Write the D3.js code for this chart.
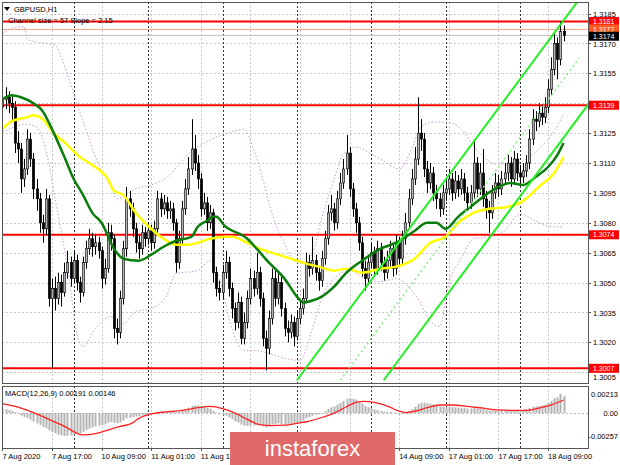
<!DOCTYPE html>
<html><head><meta charset="utf-8">
<script src="https://cdn.jsdelivr.net/npm/d3@7"></script>
<style>
body{margin:0;background:#fff;overflow:hidden;}
text{font-family:"Liberation Sans",Arial,sans-serif;}
</style></head><body>
<svg id="c" width="620" height="465"></svg>
<script>
// ---------- DATA ----------
const open=[1.3138,1.3142,1.3143,1.3140,1.3138,1.3120,1.3117,1.3102,1.3107,1.3122,1.3112,1.3097,1.3092,1.3080,1.3077,1.3092,1.3042,1.3047,1.3042,1.3050,1.3045,1.3055,1.3060,1.3052,1.3061,1.3050,1.3045,1.3060,1.3067,1.3072,1.3068,1.3070,1.3066,1.3052,1.3057,1.3075,1.3072,1.3027,1.3025,1.3042,1.3067,1.3092,1.3087,1.3077,1.3070,1.3067,1.3075,1.3072,1.3076,1.3070,1.3077,1.3092,1.3087,1.3090,1.3086,1.3087,1.3080,1.3060,1.3072,1.3087,1.3097,1.3107,1.3117,1.3110,1.3102,1.3087,1.3090,1.3080,1.3085,1.3055,1.3047,1.3045,1.3055,1.3060,1.3047,1.3037,1.3030,1.3040,1.3022,1.3030,1.3042,1.3052,1.3047,1.3055,1.3042,1.3022,1.3017,1.3032,1.3052,1.3042,1.3050,1.3037,1.3027,1.3025,1.3030,1.3023,1.3032,1.3037,1.3042,1.3060,1.3057,1.3061,1.3055,1.3051,1.3062,1.3072,1.3085,1.3087,1.3080,1.3092,1.3100,1.3107,1.3115,1.3097,1.3087,1.3080,1.3070,1.3057,1.3052,1.3060,1.3065,1.3057,1.3067,1.3060,1.3055,1.3061,1.3067,1.3057,1.3070,1.3062,1.3072,1.3080,1.3092,1.3102,1.3112,1.3125,1.3122,1.3107,1.3100,1.3105,1.3095,1.3092,1.3087,1.3095,1.3097,1.3102,1.3095,1.3101,1.3097,1.3102,1.3095,1.3090,1.3095,1.3110,1.3097,1.3105,1.3092,1.3087,1.3085,1.3095,1.3100,1.3097,1.3102,1.3105,1.3110,1.3102,1.3112,1.3105,1.3103,1.3106,1.3110,1.3122,1.3132,1.3131,1.3135,1.3133,1.3138,1.3147,1.3157,1.3170,1.3162,1.3176];
const high=[1.3146,1.3148,1.3146,1.3144,1.3141,1.3126,1.3120,1.3112,1.3127,1.3125,1.3115,1.3102,1.3095,1.3084,1.3097,1.3094,1.3052,1.3053,1.3055,1.3054,1.3060,1.3066,1.3063,1.3066,1.3064,1.3053,1.3063,1.3071,1.3077,1.3075,1.3074,1.3073,1.3068,1.3062,1.3080,1.3079,1.3074,1.3032,1.3046,1.3071,1.3098,1.3096,1.3090,1.3080,1.3074,1.3079,1.3078,1.3080,1.3079,1.3081,1.3096,1.3095,1.3094,1.3093,1.3091,1.3090,1.3082,1.3076,1.3091,1.3102,1.3113,1.3132,1.3124,1.3114,1.3105,1.3095,1.3093,1.3089,1.3087,1.3058,1.3051,1.3059,1.3066,1.3063,1.3050,1.3040,1.3045,1.3043,1.3035,1.3046,1.3057,1.3056,1.3065,1.3058,1.3045,1.3026,1.3036,1.3057,1.3056,1.3055,1.3053,1.3040,1.3031,1.3034,1.3033,1.3036,1.3041,1.3047,1.3065,1.3064,1.3073,1.3064,1.3058,1.3066,1.3076,1.3089,1.3094,1.3090,1.3096,1.3105,1.3112,1.3124,1.3118,1.3100,1.3090,1.3083,1.3073,1.3061,1.3064,1.3070,1.3068,1.3071,1.3070,1.3063,1.3066,1.3071,1.3070,1.3074,1.3073,1.3076,1.3085,1.3097,1.3107,1.3118,1.3143,1.3132,1.3125,1.3111,1.3110,1.3108,1.3099,1.3095,1.3099,1.3102,1.3107,1.3105,1.3106,1.3104,1.3107,1.3105,1.3098,1.3099,1.3122,1.3113,1.3110,1.3117,1.3096,1.3091,1.3099,1.3105,1.3104,1.3106,1.3110,1.3114,1.3113,1.3116,1.3115,1.3109,1.3110,1.3114,1.3127,1.3137,1.3136,1.3140,1.3139,1.3143,1.3152,1.3163,1.3175,1.3173,1.3181,1.3179];
const low=[1.3134,1.3137,1.3135,1.3131,1.3115,1.3110,1.3095,1.3098,1.3104,1.3108,1.3092,1.3086,1.3075,1.3070,1.3074,1.3038,1.3007,1.3036,1.3039,1.3038,1.3043,1.3052,1.3048,1.3050,1.3046,1.3040,1.3043,1.3057,1.3064,1.3063,1.3064,1.3062,1.3047,1.3049,1.3055,1.3066,1.3022,1.3019,1.3022,1.3039,1.3063,1.3083,1.3073,1.3065,1.3062,1.3064,1.3068,1.3069,1.3066,1.3067,1.3075,1.3083,1.3084,1.3082,1.3082,1.3076,1.3055,1.3057,1.3069,1.3084,1.3094,1.3104,1.3106,1.3097,1.3083,1.3084,1.3076,1.3077,1.3050,1.3043,1.3041,1.3042,1.3052,1.3043,1.3032,1.3026,1.3027,1.3019,1.3019,1.3027,1.3039,1.3043,1.3044,1.3038,1.3018,1.3006,1.3014,1.3029,1.3038,1.3039,1.3033,1.3023,1.3020,1.3022,1.3018,1.3021,1.3029,1.3034,1.3040,1.3053,1.3054,1.3051,1.3046,1.3048,1.3059,1.3069,1.3081,1.3076,1.3077,1.3089,1.3097,1.3104,1.3093,1.3083,1.3075,1.3066,1.3053,1.3046,1.3049,1.3057,1.3053,1.3054,1.3056,1.3051,1.3052,1.3058,1.3053,1.3054,1.3058,1.3059,1.3069,1.3077,1.3089,1.3099,1.3109,1.3116,1.3103,1.3095,1.3097,1.3091,1.3087,1.3083,1.3084,1.3091,1.3094,1.3091,1.3092,1.3093,1.3094,1.3091,1.3086,1.3087,1.3092,1.3093,1.3094,1.3088,1.3082,1.3075,1.3082,1.3092,1.3093,1.3094,1.3099,1.3101,1.3098,1.3099,1.3101,1.3099,1.3100,1.3103,1.3107,1.3119,1.3126,1.3128,1.3129,1.3130,1.3135,1.3144,1.3154,1.3152,1.3159,1.3171];
const close=[1.3142,1.3143,1.3140,1.3138,1.3120,1.3117,1.3102,1.3107,1.3122,1.3112,1.3097,1.3092,1.3080,1.3077,1.3092,1.3042,1.3047,1.3042,1.3050,1.3045,1.3055,1.3060,1.3052,1.3061,1.3050,1.3045,1.3060,1.3067,1.3072,1.3068,1.3070,1.3066,1.3052,1.3057,1.3075,1.3072,1.3027,1.3025,1.3042,1.3067,1.3092,1.3087,1.3077,1.3070,1.3067,1.3075,1.3072,1.3076,1.3070,1.3077,1.3092,1.3087,1.3090,1.3086,1.3087,1.3080,1.3060,1.3072,1.3087,1.3097,1.3107,1.3117,1.3110,1.3102,1.3087,1.3090,1.3080,1.3085,1.3055,1.3047,1.3045,1.3055,1.3060,1.3047,1.3037,1.3030,1.3040,1.3022,1.3030,1.3042,1.3052,1.3047,1.3055,1.3042,1.3022,1.3017,1.3032,1.3052,1.3042,1.3050,1.3037,1.3027,1.3025,1.3030,1.3023,1.3032,1.3037,1.3042,1.3060,1.3057,1.3061,1.3055,1.3051,1.3062,1.3072,1.3085,1.3087,1.3080,1.3092,1.3100,1.3107,1.3115,1.3097,1.3087,1.3080,1.3070,1.3057,1.3052,1.3060,1.3065,1.3057,1.3067,1.3060,1.3055,1.3061,1.3067,1.3057,1.3070,1.3062,1.3072,1.3080,1.3092,1.3102,1.3112,1.3125,1.3122,1.3107,1.3100,1.3105,1.3095,1.3092,1.3087,1.3095,1.3097,1.3102,1.3095,1.3101,1.3097,1.3102,1.3095,1.3090,1.3095,1.3110,1.3097,1.3105,1.3092,1.3087,1.3085,1.3095,1.3100,1.3097,1.3102,1.3105,1.3110,1.3102,1.3112,1.3105,1.3103,1.3106,1.3110,1.3122,1.3132,1.3131,1.3135,1.3133,1.3138,1.3147,1.3157,1.3170,1.3162,1.3176,1.3174];

// moving averages (bar index, value)
const maFastBars=[0,3,6,10,13,16,20,23,26,29,32,36,39,44,48,52,56,61,63,66,68,69,72,73,79,82,86,91,95,97,100,103,107,111,116,122,127,133,137,140,143,147,151,155,160,164,168,172,176,179,181];
const maFastVals=[1.3142,1.3144,1.3143,1.3140,1.3136,1.3127,1.3113,1.3102,1.3094,1.3085,1.3080,1.3067,1.3062,1.3061,1.3064,1.3068,1.3071,1.3073,1.3078,1.3081,1.3083,1.3083,1.3078,1.3077,1.3072,1.3067,1.3060,1.3052,1.3043,1.3040,1.3041,1.3043,1.3048,1.3055,1.3061,1.3067,1.3070,1.3076,1.3080,1.3080,1.3077,1.3083,1.3088,1.3093,1.3098,1.3100,1.3099,1.3103,1.3108,1.3114,1.3120];
const maSlowBars=[0,3,8,10,13,16,21,25,29,34,36,39,43,48,52,56,60,63,67,72,74,79,83,89,93,97,102,107,111,116,122,127,133,138,143,147,152,157,163,168,173,178,181];
const maSlowVals=[1.3127,1.3131,1.3133,1.3134,1.3132,1.3126,1.3119,1.3113,1.3109,1.3102,1.3096,1.3094,1.3085,1.3077,1.3072,1.3069,1.3069,1.3070,1.3072,1.3073,1.3073,1.3070,1.3067,1.3064,1.3062,1.3060,1.3058,1.3056,1.3057,1.3055,1.3057,1.3058,1.3062,1.3070,1.3073,1.3080,1.3085,1.3087,1.3088,1.3091,1.3098,1.3105,1.3113];
// envelope bands (bar index, value)
const bandUpBars=[0,4,7,8,12,17,19,22,25,28,31,35,37,40,43,48,51,54,57,61,64,67,70,74,78,81,84,87,91,94,97,100,103,107,110,114,119,123,128,132,135,139,143,148,152,156,159,164,169,173,178,181];
const bandUpVals=[1.3175,1.3178,1.31785,1.3172,1.31705,1.3169,1.3163,1.31495,1.31355,1.3122,1.31095,1.3098,1.3092,1.30945,1.3097,1.3099,1.3101,1.3104,1.31095,1.3116,1.3119,1.31215,1.31235,1.31255,1.3127,1.3117,1.3102,1.30845,1.30695,1.3061,1.30595,1.30645,1.3082,1.3102,1.31145,1.3118,1.31145,1.3111,1.3107,1.3117,1.3128,1.31305,1.31305,1.3127,1.31185,1.3112,1.31095,1.31095,1.3112,1.3117,1.3126,1.31345];
const bandLoBars=[0,4,7,11,14,17,20,22,24,26,30,35,39,43,48,53,56,63,67,70,74,78,81,86,91,96,100,103,107,112,117,122,127,132,135,138,141,144,148,152,157,162,167,172,177,181];
const bandLoVals=[1.31255,1.3128,1.31295,1.3128,1.3117,1.3092,1.3067,1.3047,1.30245,1.3018,1.3027,1.3033,1.30295,1.30355,1.3037,1.30435,1.30545,1.3056,1.3061,1.3052,1.3027,1.3016,1.3016,1.30145,1.3012,1.3011,1.3027,1.3042,1.3052,1.3056,1.3052,1.30505,1.3052,1.3046,1.30395,1.30305,1.3028,1.30495,1.3062,1.3072,1.3073,1.3076,1.30845,1.3081,1.3078,1.3078];
// regression channel (bar index, price) end points
const channelUpper=[[95,1.3001],[186,1.3192]];
const channelMiddle=[[109,1.3001],[186,1.31625]];
const channelLower=[[123,1.3001],[190,1.31415]];
// horizontal levels
const levelPrices=[1.3181,1.3139,1.3074,1.3007];
const askPrice=1.3177, bidPrice=1.3174;
const priceTicks=[1.3185,1.3170,1.3155,1.3140,1.3125,1.3110,1.3095,1.3080,1.3065,1.3050,1.3035,1.3020,1.3005];
// MACD
const macdMain=[0.00050,0.00042,0.00034,0.00024,0.00008,-0.00010,-0.00030,-0.00045,-0.00055,-0.00075,-0.00095,-0.00115,-0.00135,-0.00155,-0.00170,-0.00195,-0.00210,-0.00225,-0.00240,-0.00250,-0.00257,-0.00253,-0.00250,-0.00240,-0.00235,-0.00225,-0.00210,-0.00190,-0.00175,-0.00160,-0.00150,-0.00140,-0.00135,-0.00125,-0.00110,-0.00100,-0.00110,-0.00115,-0.00105,-0.00085,-0.00060,-0.00050,-0.00045,-0.00040,-0.00035,-0.00025,-0.00020,-0.00010,-0.00005,0.00000,0.00015,0.00020,0.00025,0.00025,0.00028,0.00025,0.00010,0.00010,0.00025,0.00040,0.00060,0.00080,0.00085,0.00085,0.00075,0.00070,0.00060,0.00050,0.00025,0.00005,-0.00015,-0.00025,-0.00030,-0.00050,-0.00070,-0.00095,-0.00105,-0.00130,-0.00140,-0.00145,-0.00140,-0.00140,-0.00130,-0.00135,-0.00150,-0.00160,-0.00150,-0.00130,-0.00125,-0.00115,-0.00120,-0.00125,-0.00125,-0.00120,-0.00120,-0.00110,-0.00100,-0.00085,-0.00060,-0.00045,-0.00030,-0.00020,-0.00015,0.00000,0.00020,0.00045,0.00065,0.00075,0.00095,0.00115,0.00135,0.00160,0.00165,0.00160,0.00150,0.00130,0.00105,0.00080,0.00065,0.00055,0.00040,0.00035,0.00025,0.00015,0.00010,0.00010,0.00000,-0.00005,-0.00010,-0.00010,0.00000,0.00020,0.00045,0.00070,0.00100,0.00115,0.00115,0.00110,0.00105,0.00095,0.00085,0.00075,0.00070,0.00070,0.00070,0.00065,0.00065,0.00060,0.00060,0.00055,0.00050,0.00050,0.00055,0.00050,0.00050,0.00045,0.00035,0.00030,0.00030,0.00030,0.00030,0.00030,0.00030,0.00035,0.00030,0.00035,0.00035,0.00030,0.00035,0.00040,0.00055,0.00070,0.00075,0.00080,0.00085,0.00095,0.00110,0.00135,0.00165,0.00175,0.00213,0.00191];
const macdSignalBars=[0,5,10,15,20,26,30,34,38,42,44,48,52,58,63,67,71,75,79,83,87,91,95,99,103,107,111,114,117,121,125,128,130,133,137,141,145,150,155,160,165,169,173,177,181];
const macdSignalVals=[0.00105,0.00065,0.00005,-0.00070,-0.00150,-0.00245,-0.00230,-0.00190,-0.00150,-0.00110,-0.00060,-0.00010,0.00010,0.00030,0.00060,0.00075,0.00050,0.00000,-0.00070,-0.00130,-0.00140,-0.00135,-0.00115,-0.00090,-0.00050,0.00000,0.00070,0.00120,0.00130,0.00110,0.00065,0.00020,0.00005,0.00020,0.00060,0.00090,0.00090,0.00075,0.00055,0.00035,0.00030,0.00030,0.00055,0.00090,0.00146];
const macdTicks=[0.00213,0.00,-0.00257];
const timeLabels=["7 Aug 2020","7 Aug 17:00","10 Aug 09:00","11 Aug 01:00","11 Aug 17:00","12 Aug 09:00","13 Aug 01:00","13 Aug 17:00","14 Aug 09:00","17 Aug 01:00","17 Aug 17:00","18 Aug 09:00"];
const timeLabelBars=[0,16,32,48,64,80,96,112,128,144,160,176];
const daySeparatorBars=[23,47,71,95,119,143,167];

// ---------- LAYOUT ----------
const svg=d3.select("#c");
const L=2, R=588, mainTop=2, mainBot=383, macdTop=386, macdBot=448;
const logo={x:230,y:432,w:165,h:33};
const x=d3.scaleLinear().domain([0,181]).range([2.4,563.5]);
const y=d3.scaleLinear().domain([1.3005,1.3185]).range([372.3,13.5]);
const ym=d3.scaleLinear().domain([-0.00257,0.00213]).range([436,394]);

const defs=svg.append("defs");
defs.append("clipPath").attr("id","cm").append("rect").attr("x",L).attr("y",mainTop).attr("width",R-L).attr("height",mainBot-mainTop);
defs.append("clipPath").attr("id","cd").append("rect").attr("x",L).attr("y",macdTop).attr("width",R-L).attr("height",macdBot-macdTop);
defs.append("clipPath").attr("id","ct").append("rect").attr("x",0).attr("y",448).attr("width",logo.x).attr("height",17);

svg.append("rect").attr("width",620).attr("height",465).attr("fill","#fff");

// grid main
const gm=svg.append("g").attr("clip-path","url(#cm)");
gm.selectAll(".hg").data(priceTicks).join("line")
  .attr("x1",L).attr("x2",R).attr("y1",d=>Math.round(y(d))+0.5).attr("y2",d=>Math.round(y(d))+0.5)
  .attr("stroke","#c8c8c8").attr("stroke-dasharray","2,2");
gm.selectAll(".vg").data(timeLabelBars.slice(1)).join("line")
  .attr("x1",d=>Math.round(x(d))+0.5).attr("x2",d=>Math.round(x(d))+0.5).attr("y1",mainTop).attr("y2",mainBot)
  .attr("stroke","#c8c8c8").attr("stroke-dasharray","2,2");
gm.selectAll(".ds").data(daySeparatorBars).join("line")
  .attr("x1",d=>Math.round(x(d))+0.5).attr("x2",d=>Math.round(x(d))+0.5).attr("y1",mainTop).attr("y2",mainBot)
  .attr("stroke","#333").attr("stroke-dasharray","2,2");

// grid macd
const gd=svg.append("g").attr("clip-path","url(#cd)");
gd.selectAll(".vg").data(timeLabelBars.slice(1)).join("line")
  .attr("x1",d=>Math.round(x(d))+0.5).attr("x2",d=>Math.round(x(d))+0.5).attr("y1",macdTop).attr("y2",macdBot)
  .attr("stroke","#c8c8c8").attr("stroke-dasharray","2,2");
gd.selectAll(".ds").data(daySeparatorBars).join("line")
  .attr("x1",d=>Math.round(x(d))+0.5).attr("x2",d=>Math.round(x(d))+0.5).attr("y1",macdTop).attr("y2",macdBot)
  .attr("stroke","#333").attr("stroke-dasharray","2,2");
gd.append("line").attr("x1",L).attr("x2",R).attr("y1",Math.round(ym(0))+0.5).attr("y2",Math.round(ym(0))+0.5)
  .attr("stroke","#bbb").attr("stroke-dasharray","2,2");

// bands
const band=(bars,vals)=>d3.line().curve(d3.curveMonotoneX).x((d,i)=>x(bars[i])).y(d=>y(d))(vals);
gm.append("path").attr("d",band(bandUpBars,bandUpVals)).attr("fill","none").attr("stroke","#cc99dd").attr("stroke-width",1).attr("stroke-dasharray","1.5,2");
gm.append("path").attr("d",band(bandLoBars,bandLoVals)).attr("fill","none").attr("stroke","#cc99dd").attr("stroke-width",1).attr("stroke-dasharray","1.5,2");

// horizontal levels
gm.append("line").attr("x1",L).attr("x2",R).attr("y1",y(bidPrice)).attr("y2",y(bidPrice)).attr("stroke","#c0c0c0").attr("stroke-width",1);
gm.append("line").attr("x1",L).attr("x2",R).attr("y1",y(askPrice)).attr("y2",y(askPrice)).attr("stroke","#f4a48a").attr("stroke-width",1);
gm.selectAll(".lv").data(levelPrices).join("line")
  .attr("x1",L).attr("x2",R).attr("y1",d=>y(d)).attr("y2",d=>y(d)).attr("stroke","#ff0000").attr("stroke-width",2);

// candles
const cg=gm.append("g");
const idx=d3.range(close.length);
cg.selectAll(".wk").data(idx).join("line")
  .attr("x1",i=>Math.round(x(i))+0.5).attr("x2",i=>Math.round(x(i))+0.5)
  .attr("y1",i=>y(high[i])).attr("y2",i=>y(low[i])).attr("stroke","#000").attr("stroke-width",1);
cg.selectAll(".bd").data(idx).join("rect")
  .attr("x",i=>Math.round(x(i))-0.7).attr("width",2.4)
  .attr("y",i=>y(Math.max(open[i],close[i])))
  .attr("height",i=>Math.max(1,Math.abs(y(open[i])-y(close[i]))))
  .attr("fill",i=>close[i]>=open[i]?"#b0b0b0":"#000")
  .attr("stroke","#000").attr("stroke-width",0.6);

// MAs
const maLine=(bars,vals)=>d3.line().curve(d3.curveMonotoneX).x((d,i)=>x(bars[i])).y(d=>y(d))(vals);
gm.append("path").attr("d",maLine(maSlowBars,maSlowVals)).attr("fill","none").attr("stroke","#ffff00").attr("stroke-width",2.5);
gm.append("path").attr("d",maLine(maFastBars,maFastVals)).attr("fill","none").attr("stroke","#0a7d0a").attr("stroke-width",2.5);

// channel
const chLine=d3.line().x(d=>x(d[0])).y(d=>y(d[1]));
gm.append("path").attr("d",chLine(channelUpper)).attr("stroke","#22ee22").attr("stroke-width",2).attr("fill","none");
gm.append("path").attr("d",chLine(channelLower)).attr("stroke","#22ee22").attr("stroke-width",2).attr("fill","none");
gm.append("path").attr("d",chLine(channelMiddle)).attr("stroke","#88ee88").attr("stroke-width",1.5).attr("fill","none").attr("stroke-dasharray","2,3");

// MACD
gd.selectAll(".hb").data(idx).join("line")
  .attr("x1",i=>Math.round(x(i))+0.5).attr("x2",i=>Math.round(x(i))+0.5)
  .attr("y1",ym(0)).attr("y2",i=>ym(macdMain[i])).attr("stroke","#b4b4b4").attr("stroke-width",2);
gd.append("path").attr("d",d3.line().curve(d3.curveMonotoneX).x((d,i)=>x(macdSignalBars[i])).y(d=>ym(d))(macdSignalVals))
  .attr("fill","none").attr("stroke","#ff2020").attr("stroke-width",1.3);

// panel borders
svg.append("rect").attr("x",L+0.5).attr("y",mainTop+0.5).attr("width",R-L).attr("height",mainBot-mainTop).attr("fill","none").attr("stroke","#555");
svg.append("rect").attr("x",L+0.5).attr("y",macdTop+0.5).attr("width",R-L).attr("height",macdBot-macdTop).attr("fill","none").attr("stroke","#555");

// price axis labels (a label fully behind a level tag is not drawn; one partly behind is nudged clear)
const tagPrices=levelPrices.concat([askPrice,bidPrice]);
const visibleTicks=priceTicks.filter(p=>tagPrices.every(t=>Math.abs(y(t)-y(p))>3.5));
const nudge=p=>{const t=tagPrices.find(t=>Math.abs(y(t)-y(p))<9);return t===undefined?0:(y(p)>y(t)?y(t)+12-(y(p)+3):0);};
svg.selectAll(".pt").data(visibleTicks).join("text")
  .attr("x",593).attr("y",d=>y(d)+3+Math.max(0,nudge(d))).attr("font-size",7.5).attr("fill","#000").text(d=>d.toFixed(4));
svg.selectAll(".ptk").data(priceTicks).join("line")
  .attr("x1",R).attr("x2",R+3).attr("y1",d=>Math.round(y(d))+0.5).attr("y2",d=>Math.round(y(d))+0.5).attr("stroke","#555");

function tag(p,bg,dy){
  const yy=y(p)+(dy||0);
  svg.append("rect").attr("x",589).attr("y",yy-4.5).attr("width",30).attr("height",9).attr("fill",bg);
  svg.append("text").attr("x",593).attr("y",yy+2.6).attr("font-size",7).attr("fill","#fff").text(p.toFixed(4));
}
levelPrices.forEach(p=>tag(p,"#ff0000"));
tag(askPrice,"#ff5a1e",-0.5);
tag(bidPrice,"#000000",0.8);

// titles
svg.append("path").attr("d","M4,7 L10,7 L7,11 Z").attr("fill","#000");
svg.append("text").attr("x",14).attr("y",12).attr("font-size",7.5).text("GBPUSD,H1");
svg.append("text").attr("x",8).attr("y",23).attr("font-size",7.5).text("Channel size = 57 Slope = 2.15");
svg.append("text").attr("x",5).attr("y",396).attr("font-size",7.5).text("MACD(12,26,9) 0.00191 0.00146");

// macd axis labels
svg.selectAll(".mt").data(macdTicks).join("text")
  .attr("x",618).attr("text-anchor","end").attr("y",d=>ym(d)+3).attr("font-size",7.5).text(d=>d===0?"0.00":d.toFixed(5));

// time labels (those fully hidden by the logo are not drawn; the partly hidden one is clipped)
const tl=svg.append("g").attr("clip-path","url(#ct)");
const tlIdx=d3.range(timeLabels.length).filter(k=>{const xs=x(timeLabelBars[k]);return xs<logo.x||xs>logo.x+logo.w;});
tl.selectAll(".tl").data(tlIdx.filter(k=>x(timeLabelBars[k])<logo.x)).join("text")
  .attr("x",k=>x(timeLabelBars[k])).attr("y",459).attr("font-size",7.5).text(k=>timeLabels[k]);
svg.append("g").selectAll(".tl2").data(tlIdx.filter(k=>x(timeLabelBars[k])>logo.x)).join("text")
  .attr("x",k=>x(timeLabelBars[k])).attr("y",459).attr("font-size",7.5).text(k=>timeLabels[k]);
svg.selectAll(".tt").data(timeLabelBars).join("line")
  .attr("x1",d=>Math.round(x(d))+0.5).attr("x2",d=>Math.round(x(d))+0.5).attr("y1",macdBot).attr("y2",macdBot+3).attr("stroke","#555");

// logo
svg.append("rect").attr("x",logo.x).attr("y",logo.y).attr("width",logo.w).attr("height",logo.h).attr("fill","#e06a6a");
svg.append("text").attr("x",logo.x+logo.w/2).attr("y",456).attr("text-anchor","middle").attr("font-size",22).attr("fill","#fff").text("instaforex");
</script>
</body></html>
